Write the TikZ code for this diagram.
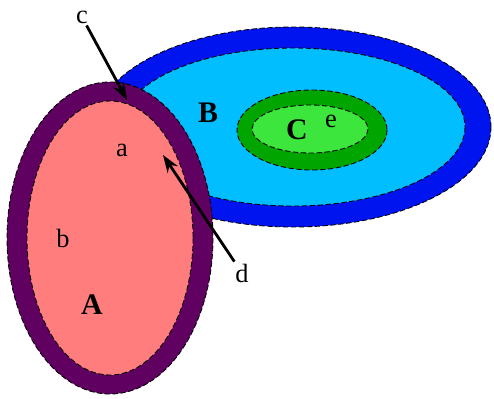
\documentclass[tikz,border=0pt]{standalone}
\usepackage{fontspec}
\setmainfont{Liberation Serif}
\usetikzlibrary{arrows.meta,positioning}
\definecolor{setpurple}{RGB}{96,0,96}
\definecolor{setpink}{RGB}{255,125,125}
\definecolor{setblue}{RGB}{0,20,240}
\definecolor{setsky}{RGB}{0,190,255}
\definecolor{setgreen}{RGB}{0,165,0}
\definecolor{setlime}{RGB}{60,230,60}
\tikzset{
  rim/.style={draw=black,line width=0.5pt,dash pattern=on 3pt off 1.5pt},
  tag/.style={font=\fontsize{15}{17}\selectfont,inner sep=1pt},
  bigtag/.style={inner sep=1pt,font=\fontsize{17}{19}\selectfont\bfseries},
  pointer/.style={-{Stealth[length=10pt,width=7pt]},line width=1.6pt}
}
\begin{document}
\begin{tikzpicture}[x=0.02cm,y=-0.02cm]
  \useasboundingbox (0,0) rectangle (494,399);
  % set B with C inside
  \path[fill=setblue,rim] (293,127) ellipse [x radius=198,y radius=100];
  \path[fill=setsky,rim]  (293,127) ellipse [x radius=172,y radius=79];
  \path[fill=setgreen,rim] (312,130) ellipse [x radius=75,y radius=40];
  \path[fill=setlime,rim]  (310,129) ellipse [x radius=58,y radius=24];
  % set A on top
  \path[fill=setpurple,rim] (110,238) ellipse [x radius=103,y radius=156];
  \path[fill=setpink,rim]   (110,238) ellipse [x radius=83,y radius=137];
  % labels
  \node[bigtag] (B) at (208,113) {B};
  \node[bigtag] (C) at (297,130) {C};
  \node[tag] (e) at (331,121) {e};
  \node[tag] (a) at (122,150) {a};
  \node[tag] (b) at (63,238) {b};
  \node[bigtag] (A) at (92,305) {A};
  \node[tag] (c) at (82,17) {c};
  \node[tag] (d) at (242,273) {d};
  % pointers
  \coordinate (ctip) at (127,100);
  \coordinate (dtip) at (163,155);
  \draw[pointer] (c) -- (ctip);
  \draw[pointer] (d) -- (dtip);
\end{tikzpicture}
\end{document}
